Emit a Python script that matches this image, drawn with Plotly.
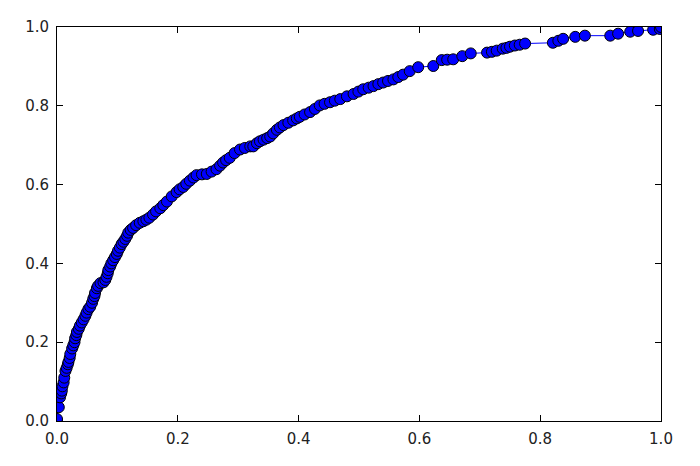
import plotly.graph_objects as go

fpr = [0.0, 0.0, 0.003, 0.005, 0.007, 0.008, 0.009, 0.011, 0.012, 0.014, 0.016, 0.018, 0.019,
       0.021, 0.022, 0.025, 0.027, 0.029, 0.030, 0.032, 0.033, 0.036, 0.038, 0.041, 0.044,
       0.047, 0.049, 0.052, 0.055, 0.058, 0.060, 0.062, 0.063, 0.066, 0.068, 0.072, 0.077,
       0.080, 0.082, 0.084, 0.085, 0.088, 0.090, 0.093, 0.096, 0.099, 0.101, 0.104, 0.107,
       0.110, 0.113, 0.116, 0.118, 0.122, 0.126, 0.131, 0.137, 0.143, 0.148, 0.153, 0.159,
       0.164, 0.171, 0.176, 0.182, 0.190, 0.198, 0.203, 0.209, 0.214, 0.220, 0.226, 0.231,
       0.240, 0.248, 0.256, 0.264, 0.270, 0.275, 0.280, 0.286, 0.294, 0.303, 0.311, 0.320,
       0.325, 0.331, 0.336, 0.342, 0.348, 0.353, 0.358, 0.364, 0.369, 0.375, 0.383, 0.391,
       0.397, 0.402, 0.410, 0.419, 0.427, 0.435, 0.443, 0.452, 0.460, 0.469, 0.480, 0.491,
       0.499, 0.507, 0.516, 0.524, 0.532, 0.540, 0.548, 0.557, 0.565, 0.573, 0.584, 0.598,
       0.623, 0.637, 0.646, 0.656, 0.671, 0.685, 0.712, 0.720, 0.728, 0.738, 0.744, 0.750,
       0.758, 0.766, 0.775, 0.821, 0.830, 0.838, 0.858, 0.874, 0.916, 0.929, 0.949, 0.962,
       0.987, 0.998, 1.0]
tpr = [0.0, 0.005, 0.035, 0.060, 0.070, 0.077, 0.088, 0.098, 0.110, 0.127, 0.135, 0.144, 0.150,
       0.160, 0.170, 0.184, 0.192, 0.200, 0.210, 0.218, 0.226, 0.234, 0.242, 0.250, 0.258,
       0.267, 0.275, 0.284, 0.290, 0.300, 0.310, 0.317, 0.325, 0.337, 0.343, 0.350, 0.352,
       0.358, 0.366, 0.375, 0.383, 0.392, 0.400, 0.408, 0.416, 0.424, 0.432, 0.440, 0.449,
       0.455, 0.462, 0.470, 0.478, 0.485, 0.490, 0.497, 0.503, 0.507, 0.511, 0.516, 0.524,
       0.532, 0.540, 0.548, 0.557, 0.570, 0.581, 0.588, 0.594, 0.602, 0.610, 0.618, 0.624,
       0.626, 0.627, 0.633, 0.639, 0.648, 0.656, 0.662, 0.668, 0.680, 0.689, 0.693, 0.697,
       0.697, 0.705, 0.710, 0.714, 0.718, 0.722, 0.730, 0.739, 0.745, 0.751, 0.757, 0.763,
       0.768, 0.772, 0.778, 0.784, 0.792, 0.801, 0.805, 0.809, 0.813, 0.817, 0.824, 0.830,
       0.836, 0.842, 0.846, 0.850, 0.855, 0.859, 0.863, 0.867, 0.873, 0.879, 0.888, 0.898,
       0.901, 0.916, 0.917, 0.918, 0.926, 0.933, 0.935, 0.937, 0.940, 0.945, 0.947, 0.950,
       0.953, 0.955, 0.958, 0.960, 0.965, 0.970, 0.975, 0.978, 0.978, 0.983, 0.988, 0.990,
       0.993, 0.995, 1.0]

tick_vals = [0.0, 0.2, 0.4, 0.6, 0.8, 1.0]
tick_text = ["0.0", "0.2", "0.4", "0.6", "0.8", "1.0"]

fig = go.Figure(go.Scatter(
    x=fpr, y=tpr, mode="lines+markers",
    line=dict(color="#0000ff", width=1),
    marker=dict(size=11, color="#0000ff", line=dict(color="black", width=1)),
    cliponaxis=True,
))

axis_common = dict(
    range=[0, 1], tickvals=tick_vals, ticktext=tick_text,
    showgrid=False, zeroline=False, showline=True, linecolor="black", linewidth=1,
    mirror="ticks", ticks="inside", ticklen=6, tickcolor="black",
    tickfont=dict(family="DejaVu Sans", size=15, color="#222222"),
)
fig.update_xaxes(ticklabelstandoff=4, **axis_common)
fig.update_yaxes(ticklabelstandoff=4, **axis_common)
fig.update_layout(
    width=700, height=466,
    margin=dict(l=49, r=47, t=10, b=53),
    paper_bgcolor="white", plot_bgcolor="white",
    showlegend=False,
)
fig.write_html("out.html")
